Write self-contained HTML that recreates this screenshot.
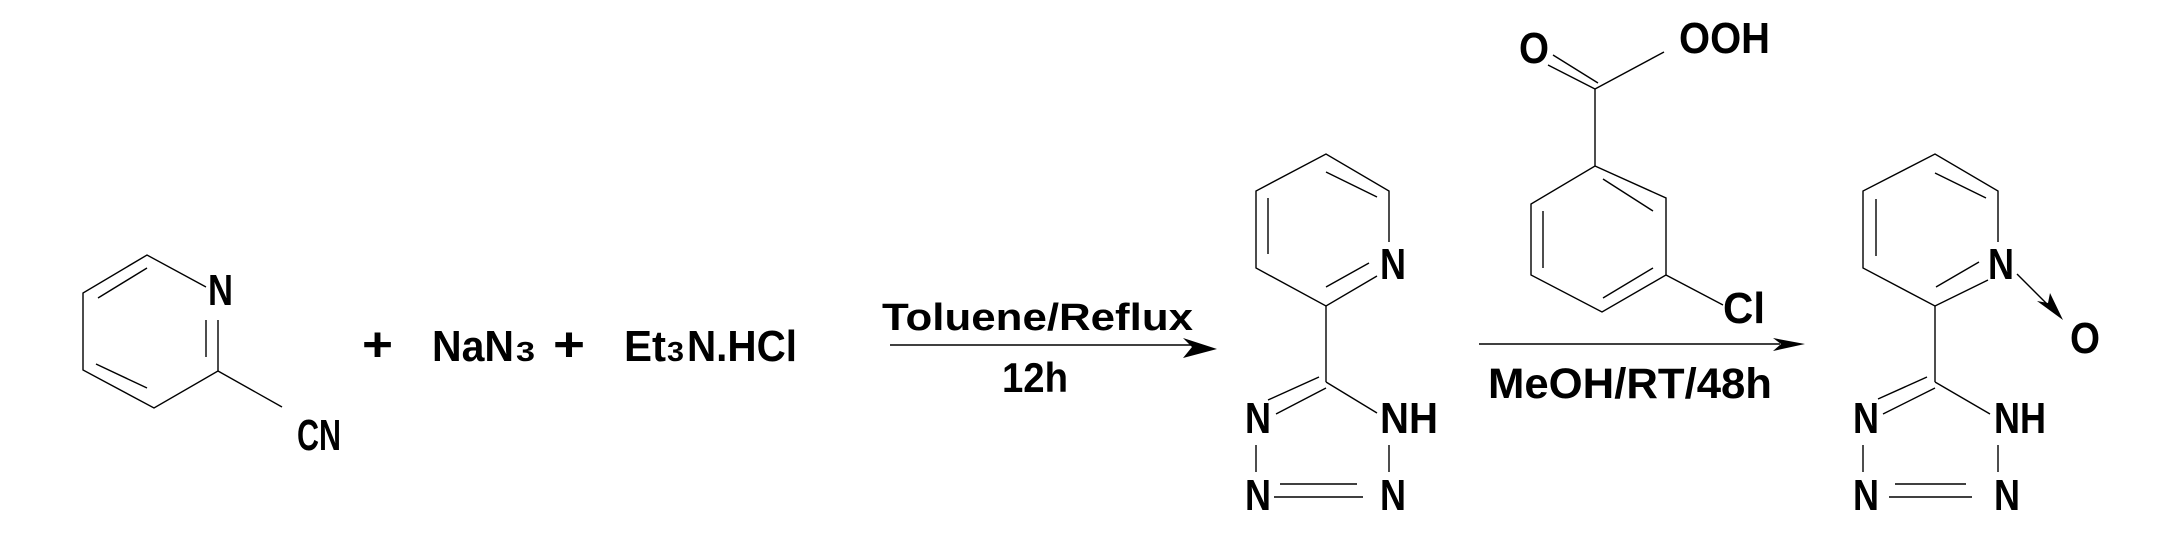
<!DOCTYPE html>
<html><head><meta charset="utf-8"><style>
html,body{margin:0;padding:0;background:#fff;}
svg{display:block;}
text{font-family:"Liberation Sans",Arial,sans-serif;font-weight:bold;fill:#000;}
</style></head><body>
<svg width="2164" height="548" viewBox="0 0 2164 548" xmlns="http://www.w3.org/2000/svg">
<g stroke="#000" stroke-width="1.4" fill="none">
<!-- molecule 1 -->
<polyline points="206,287 147,255 83,293 83,370 154,408 218,371 218,320"/>
<line x1="98" y1="298" x2="147" y2="268"/>
<line x1="96" y1="364" x2="147" y2="388"/>
<line x1="206" y1="320" x2="206" y2="357"/>
<line x1="218" y1="371" x2="282" y2="407"/>
<!-- arrow 1 -->
<line x1="890" y1="345" x2="1195" y2="345"/>
<!-- molecule 2 -->
<polyline points="1389,242 1389,191 1326,154 1256,191 1256,268 1326,306 1377,276"/>
<line x1="1326" y1="172" x2="1377" y2="197"/>
<line x1="1268" y1="198" x2="1268" y2="254"/>
<line x1="1326" y1="287" x2="1369" y2="263"/>
<line x1="1326" y1="306" x2="1326" y2="382"/>
<line x1="1326" y1="382" x2="1377" y2="413"/>
<line x1="1319" y1="377" x2="1268" y2="400"/>
<line x1="1326" y1="388" x2="1276" y2="414"/>
<line x1="1256" y1="445" x2="1256" y2="472"/>
<line x1="1389" y1="445" x2="1389" y2="472"/>
<line x1="1274" y1="497" x2="1363" y2="497"/>
<line x1="1280" y1="484" x2="1357" y2="484"/>
<!-- mCPBA -->
<line x1="1595" y1="89" x2="1664" y2="52"/>
<line x1="1595" y1="89" x2="1548" y2="65"/>
<line x1="1598" y1="83" x2="1553" y2="55"/>
<line x1="1595" y1="89" x2="1595" y2="166"/>
<polygon points="1595,166 1666,198 1666,275 1602,312 1531,275 1531,204"/>
<line x1="1603" y1="179" x2="1653" y2="211"/>
<line x1="1543" y1="211" x2="1543" y2="268"/>
<line x1="1603" y1="298" x2="1653" y2="268"/>
<line x1="1666" y1="275" x2="1723" y2="305"/>
<!-- arrow 2 -->
<line x1="1479" y1="344" x2="1780" y2="344"/>
<!-- molecule 3 -->
<polyline points="1998,242 1998,191 1935,154 1863,191 1863,268 1935,306 1988,280"/>
<line x1="1935" y1="173" x2="1986" y2="198"/>
<line x1="1876" y1="199" x2="1876" y2="256"/>
<line x1="1936" y1="287" x2="1979" y2="262"/>
<line x1="2017" y1="274" x2="2050" y2="307"/>
<line x1="1935" y1="306" x2="1935" y2="382"/>
<line x1="1935" y1="382" x2="1990" y2="414"/>
<line x1="1927" y1="377" x2="1878" y2="399"/>
<line x1="1935" y1="388" x2="1883" y2="414"/>
<line x1="1863" y1="445" x2="1863" y2="472"/>
<line x1="1998" y1="445" x2="1998" y2="472"/>
<line x1="1889" y1="497" x2="1972" y2="497"/>
<line x1="1895" y1="484" x2="1966" y2="484"/>
</g>
<g fill="#000" stroke="none">
<polygon points="1217,349 1183,338 1192,347 1183,358"/>
<polygon points="1805,344 1773,338 1781,344 1773,351"/>
<polygon points="2063,320 2037,301 2048,303 2050,293"/>
</g>
<g font-size="44">
<text x="208" y="305" textLength="25" lengthAdjust="spacingAndGlyphs">N</text>
<text x="297" y="450" textLength="44" lengthAdjust="spacingAndGlyphs">CN</text>
<text x="362" y="361" font-size="48" textLength="31" lengthAdjust="spacingAndGlyphs">+</text>
<text x="432" y="361" textLength="82" lengthAdjust="spacingAndGlyphs">NaN</text>
<text x="516" y="361" font-size="28" textLength="19" lengthAdjust="spacingAndGlyphs">3</text>
<text x="553" y="361" font-size="48" textLength="32" lengthAdjust="spacingAndGlyphs">+</text>
<text x="624" y="361" textLength="42" lengthAdjust="spacingAndGlyphs">Et</text>
<text x="667" y="361" font-size="28" textLength="17" lengthAdjust="spacingAndGlyphs">3</text>
<text x="687" y="361" textLength="110" lengthAdjust="spacingAndGlyphs">N.HCl</text>
<text x="882" y="330" font-size="38" textLength="311" lengthAdjust="spacingAndGlyphs">Toluene/Reflux</text>
<text x="1002" y="392" font-size="42" textLength="66" lengthAdjust="spacingAndGlyphs">12h</text>
<text x="1380" y="279" textLength="26" lengthAdjust="spacingAndGlyphs">N</text>
<text x="1245" y="433" textLength="26" lengthAdjust="spacingAndGlyphs">N</text>
<text x="1380" y="433" textLength="58" lengthAdjust="spacingAndGlyphs">NH</text>
<text x="1245" y="510" textLength="26" lengthAdjust="spacingAndGlyphs">N</text>
<text x="1380" y="510" textLength="26" lengthAdjust="spacingAndGlyphs">N</text>
<text x="1519" y="63" textLength="30" lengthAdjust="spacingAndGlyphs">O</text>
<text x="1679" y="53" textLength="91" lengthAdjust="spacingAndGlyphs">OOH</text>
<text x="1723" y="323" textLength="42" lengthAdjust="spacingAndGlyphs">Cl</text>
<text x="1488" y="398" font-size="43" textLength="284" lengthAdjust="spacingAndGlyphs">MeOH/RT/48h</text>
<text x="1988" y="279" textLength="26" lengthAdjust="spacingAndGlyphs">N</text>
<text x="2070" y="353" textLength="30" lengthAdjust="spacingAndGlyphs">O</text>
<text x="1853" y="433" textLength="26" lengthAdjust="spacingAndGlyphs">N</text>
<text x="1994" y="433" textLength="26" lengthAdjust="spacingAndGlyphs">N</text>
<text x="2020" y="433" textLength="26" lengthAdjust="spacingAndGlyphs">H</text>
<text x="1853" y="510" textLength="26" lengthAdjust="spacingAndGlyphs">N</text>
<text x="1994" y="510" textLength="26" lengthAdjust="spacingAndGlyphs">N</text>
</g>
</svg>
</body></html>
